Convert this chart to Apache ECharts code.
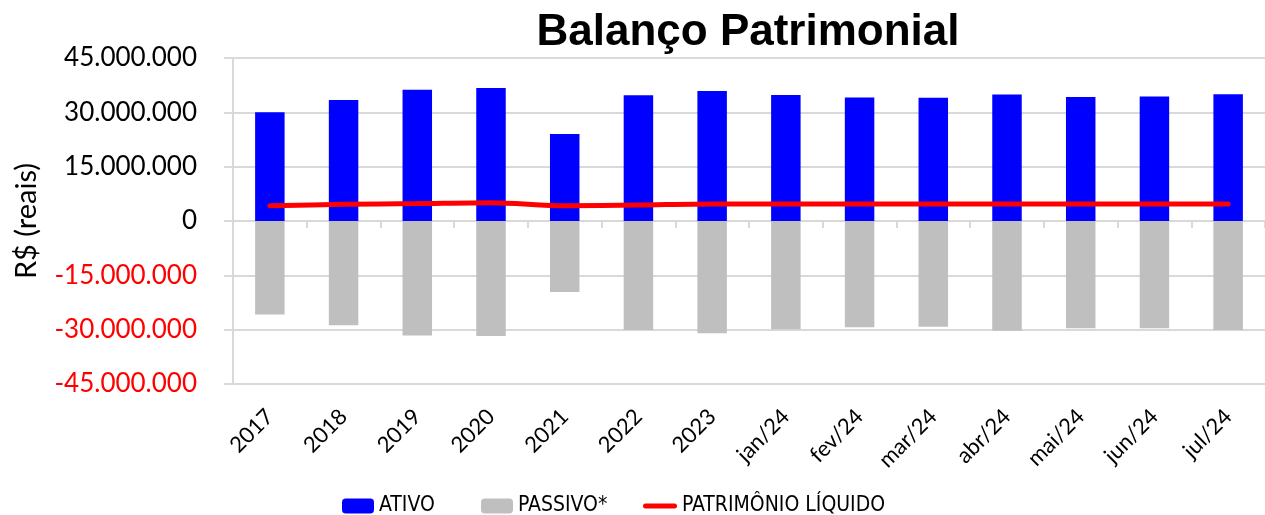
<!DOCTYPE html>
<html>
<head>
<meta charset="utf-8">
<script src="https://cdn.jsdelivr.net/npm/echarts@6/dist/echarts.min.js"></script>
<style>
html,body{margin:0;padding:0;background:#fff;}
#chart{width:1265px;height:515px;}
</style>
</head>
<body>
<div id="chart"></div>
<script>
const categories = ['2017','2018','2019','2020','2021','2022','2023','jan/24','fev/24','mar/24','abr/24','mai/24','jun/24','jul/24'];
const ativo = [30000000, 33400000, 36250000, 36700000, 24000000, 34700000, 35900000, 34800000, 34100000, 34000000, 34900000, 34200000, 34400000, 35000000];
const passivo = [-25800000, -28800000, -31600000, -31750000, -19600000, -30100000, -31000000, -29900000, -29350000, -29200000, -30300000, -29600000, -29600000, -30100000];
const patrimonio = [4200000, 4600000, 4800000, 5050000, 4200000, 4400000, 4700000, 4700000, 4700000, 4700000, 4700000, 4700000, 4700000, 4700000];
const yTicks = {min: -45000000, max: 45000000, interval: 15000000};

function fmt(v){
  const s = String(Math.abs(v)).replace(/\B(?=(\d{3})+(?!\d))/g, '.');
  return (v < 0 ? '-' : '') + s;
}

const chart = echarts.init(document.getElementById('chart'));
const gridColor = '#D9D9D9';
const legendFont = {fontFamily: '"Liberation Sans Narrow", "DejaVu Sans Condensed", Lato, sans-serif', fontSize: 21, color: '#000'};

chart.setOption({
  animation: false,
  title: {
    text: 'Balanço Patrimonial',
    left: 743, textAlign: 'center', top: 6,
    textStyle: {fontFamily: '"Liberation Sans", Arial, sans-serif', fontWeight: 'bold', fontSize: 44, color: '#000'}
  },
  grid: {left: 233, top: 58, width: 1043, height: 326, containLabel: false},
  legend: [
    {data: ['ATIVO'], left: 342, top: 495.5, padding: 0, itemWidth: 32, itemHeight: 15, textStyle: legendFont},
    {data: ['PASSIVO*'], left: 481, top: 495.5, padding: 0, itemWidth: 32, itemHeight: 15, textStyle: legendFont},
    {data: [{name: 'PATRIMÔNIO LÍQUIDO', icon: 'path://M2.5,0H31.5A2.5,2.5,0,0,1,31.5,5H2.5A2.5,2.5,0,0,1,2.5,0Z'}],
     left: 643, top: 495.5, padding: 0, itemWidth: 34, itemHeight: 15, symbolKeepAspect: true, textStyle: legendFont}
  ],
  xAxis: [
    {
      type: 'category', data: categories, position: 'bottom',
      axisLine: {show: false, onZero: false},
      axisTick: {show: false},
      axisLabel: {rotate: 45, margin: 29, fontFamily: 'Lato, sans-serif', fontSize: 22, color: '#000', interval: 0},
      splitLine: {show: false}
    },
    {
      type: 'category', data: categories, position: 'bottom',
      axisLine: {show: true, onZero: true, lineStyle: {color: gridColor, width: 2}},
      axisTick: {show: true, length: 7, lineStyle: {color: gridColor, width: 2}},
      axisLabel: {show: false},
      splitLine: {show: false}
    }
  ],
  yAxis: {
    type: 'value', min: yTicks.min, max: yTicks.max, interval: yTicks.interval,
    name: 'R$ (reais)', nameLocation: 'middle', nameRotate: 90, nameGap: 192,
    nameTextStyle: {fontFamily: 'Lato, sans-serif', fontSize: 29, color: '#000'},
    axisLine: {show: true, lineStyle: {color: gridColor, width: 2}},
    axisTick: {show: true, length: 9, lineStyle: {color: gridColor, width: 2}},
    splitLine: {show: true, lineStyle: {color: gridColor, width: 2}},
    axisLabel: {
      margin: 36, fontFamily: 'Lato, sans-serif', fontSize: 26,
      formatter: fmt,
      color: function(v){ return Number(v) < 0 ? '#FF0000' : '#000000'; }
    }
  },
  series: [
    {name: 'ATIVO', type: 'bar', data: ativo, barWidth: '40%', barGap: '-100%', xAxisIndex: 0,
     itemStyle: {color: '#0000FF'}},
    {name: 'PASSIVO*', type: 'bar', data: passivo, barWidth: '40%', barGap: '-100%', xAxisIndex: 0,
     itemStyle: {color: '#BFBFBF'}},
    {name: 'PATRIMÔNIO LÍQUIDO', type: 'line', data: patrimonio, xAxisIndex: 0, smooth: 0.3,
     symbol: 'none', showSymbol: false, z: 5,
     lineStyle: {color: '#FF0000', width: 5, cap: 'round'}, itemStyle: {color: '#FF0000'}}
  ]
});
</script>
</body>
</html>
